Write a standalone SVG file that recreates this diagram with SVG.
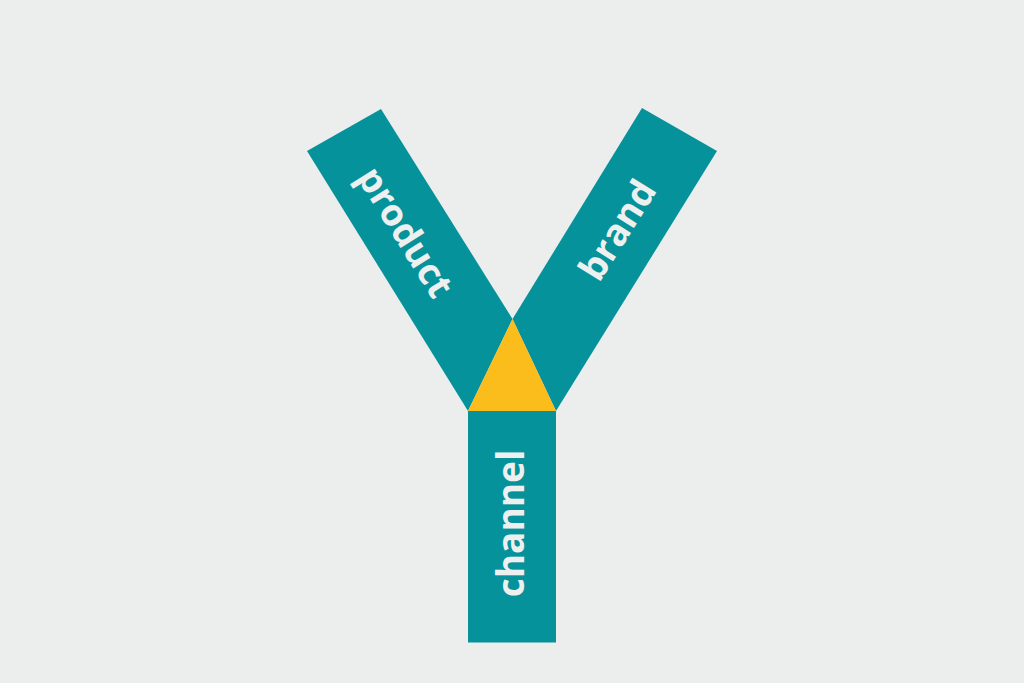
<svg xmlns="http://www.w3.org/2000/svg" width="1024" height="683" viewBox="0 0 1024 683">
<style>
.arm{fill:#05929b}
.core{fill:#fbbd1c}
.lbl{font-family:"Open Sans","Noto Sans","Liberation Sans",sans-serif;font-weight:700;font-size:37px;fill:#eef0f0;text-anchor:middle}
</style>
<rect width="1024" height="683" fill="#eceeee"/>
<g id="product">
<polygon class="arm" points="307,151 381,109 512.5,319 468,411"/>
<text class="lbl" transform="translate(404,233) rotate(58)" x="0" y="11">product</text>
</g>
<g id="brand">
<polygon class="arm" points="717,151 642,108 512.5,319 556,411"/>
<text class="lbl" transform="translate(619,231) rotate(-58)" x="0" y="11">brand</text>
</g>
<g id="channel">
<rect class="arm" x="468" y="411" width="88" height="231.5"/>
<text class="lbl" transform="translate(512,523.5) rotate(-90)" x="0" y="12">channel</text>
</g>
<g id="core">
<polygon class="core" points="512.5,319 468,411 556,411"/>
</g>
<g id="connectors"/>
</svg>
